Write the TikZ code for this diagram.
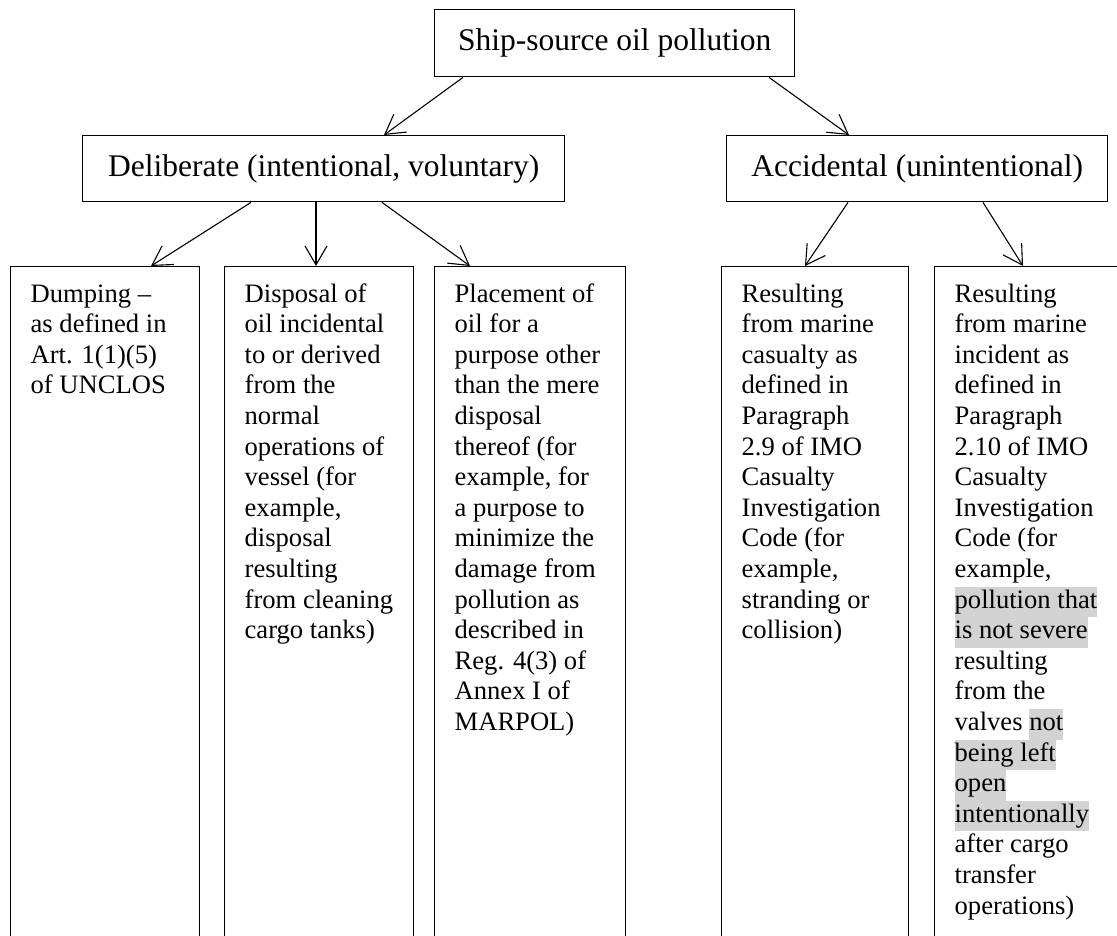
\documentclass[tikz,border=0pt]{standalone}
\usepackage{fontspec}
\setmainfont{Liberation Serif}
\usetikzlibrary{arrows.meta}
\definecolor{hlgrey}{RGB}{211,211,211}
\def\headfont{\fontsize{31.5}{36}\selectfont}
\def\leaffont{\fontsize{26.6}{30.6}\selectfont}
\def\leafy{266}
\def\leafh{660pt}
\newcommand{\greyhl}[1]{{\setlength{\fboxsep}{0pt}\colorbox{hlgrey}{\strut #1}}}

\begin{document}
\begin{tikzpicture}[x=1pt,y=-1pt,
  head/.style={draw, line width=1.4pt, anchor=north west, inner sep=0pt, font=\headfont},
  leaf/.style={draw, line width=1.3pt, anchor=north west, inner xsep=20pt, inner ysep=14pt, font=\leaffont},
  arr/.style={line width=1.1pt, -{Straight Barb[length=19pt,width=22pt]}}]

\useasboundingbox (0,0) rectangle (1117,936);
\clip (0,0) rectangle (1117,936);

%top box
\node[head, minimum width=360pt, minimum height=67pt] (ship) at (434,9) {Ship-source oil pollution};

%the two kinds
\node[head, minimum width=482pt, minimum height=66pt] (delib) at (82,135) {Deliberate (intentional, voluntary)};
\node[head, minimum width=381pt, minimum height=66pt] (accid) at (726,135) {Accidental (unintentional)};

%deliberate ones (left)
\node[leaf] (dump) at (10,\leafy) {\parbox[t][\leafh][t]{149pt}{\strut Dumping –\\as defined in\\Art. 1(1)(5)\\of UNCLOS}};
\node[leaf] (disp) at (224,\leafy) {\parbox[t][\leafh][t]{149pt}{\strut Disposal of\\oil incidental\\to or derived\\from the\\normal\\operations of\\vessel (for\\example,\\disposal\\resulting\\from cleaning\\cargo tanks)}};
\node[leaf] (place) at (434,\leafy) {\parbox[t][\leafh][t]{151pt}{\strut Placement of\\oil for a\\purpose other\\than the mere\\disposal\\thereof (for\\example, for\\a purpose to\\minimize the\\damage from\\pollution as\\described in\\Reg. 4(3) of\\Annex I of\\MARPOL)}};

%accidental ones (right)
\node[leaf] (casualty) at (721,\leafy) {\parbox[t][\leafh][t]{147pt}{\strut Resulting\\from marine\\casualty as\\defined in\\Paragraph\\2.9 of IMO\\Casualty\\Investigation\\Code (for\\example,\\stranding or\\collision)}};
\node[leaf] (incident) at (934,\leafy) {\parbox[t][\leafh][t]{149pt}{\strut Resulting\\from marine\\incident as\\defined in\\Paragraph\\2.10 of IMO\\Casualty\\Investigation\\Code (for\\example,\\\greyhl{pollution that}\\\greyhl{is not severe}\\resulting\\from the\\valves \greyhl{not}\\\greyhl{being left}\\\greyhl{open}\\\greyhl{intentionally}\\after cargo\\transfer\\operations)}};

%arrows
\draw[arr] (ship.south -| 463,0) -- (delib.north -| 384,0);
\draw[arr] (ship.south -| 769,0) -- (accid.north -| 849,0);

\draw[arr] (delib.south -| 251,0) -- (dump.north -| 151,0);
\draw[arr] (delib.south -| 316,0) -- (disp.north -| 316,0);
\draw[arr] (delib.south -| 382,0) -- (place.north -| 470,0);

\draw[arr] (accid.south -| 848,0) -- (casualty.north -| 805,0);
\draw[arr] (accid.south -| 983,0) -- (incident.north -| 1023,0);

\end{tikzpicture}
\end{document}
